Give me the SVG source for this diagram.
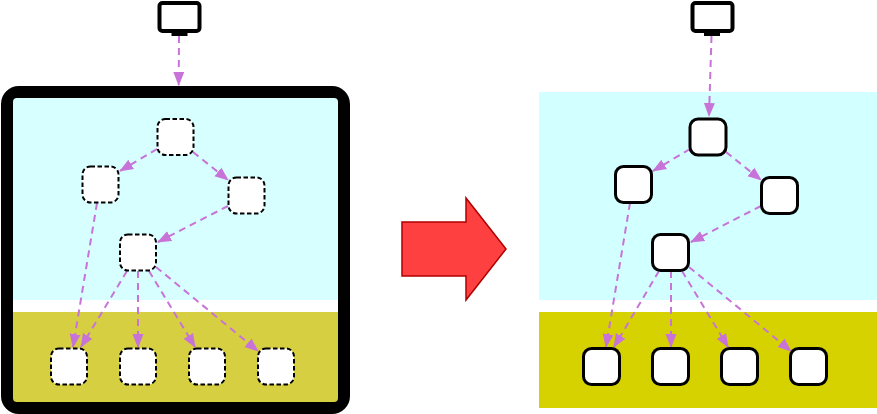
<svg xmlns="http://www.w3.org/2000/svg" width="877" height="414" viewBox="0 0 877 414">
<style>
.e{fill:none;stroke:#c873d8;stroke-width:2;stroke-dasharray:7 5;marker-end:url(#ah)}
.nd{fill:#fff;stroke:#000;stroke-width:2;stroke-dasharray:4.500 2.500}
.ns{fill:#fff;stroke:#000;stroke-width:3}
.mon{fill:#fff;stroke:#000;stroke-width:4}
</style>
<defs>
<marker id="ah" markerUnits="userSpaceOnUse" markerWidth="15" markerHeight="13" refX="13" refY="6" orient="auto" viewBox="0 0 15 13"><path d="M0 0.500L14 6L0 11.500Z" fill="#c873d8"/></marker>
</defs>
<rect id="left-frame" x="7" y="92" width="337" height="316" rx="12" fill="#fff" stroke="#000" stroke-width="12"/>
<path id="left-cyan" d="M13 300V102a4 4 0 0 1 4-4H334a4 4 0 0 1 4 4V300Z" fill="#d7ffff"/>
<path id="left-olive" d="M13 312H338V398a4 4 0 0 1-4 4H17a4 4 0 0 1-4-4Z" fill="#d6cf41"/>
<rect id="right-cyan" x="539" y="92" width="338" height="208" fill="#d2ffff"/>
<rect id="right-olive" x="539" y="312" width="338" height="96" fill="#d6d200"/>
<path id="big-arrow" d="M402 222H466V198L506 249L466 300V276H402Z" fill="#ff4040" stroke="#b00000" stroke-width="1.500"/>
<g id="connectors">
<line class="e" x1="179" y1="36" x2="178.700" y2="85"/>
<line class="e" x1="157" y1="149" x2="120" y2="171"/>
<line class="e" x1="193" y1="152" x2="228" y2="180"/>
<line class="e" x1="228" y1="206" x2="158" y2="242"/>
<line class="e" x1="97" y1="203" x2="73" y2="347"/>
<line class="e" x1="127" y1="271" x2="81" y2="347"/>
<line class="e" x1="138" y1="271" x2="138" y2="347"/>
<line class="e" x1="149" y1="271" x2="195" y2="347"/>
<line class="e" x1="156" y1="267" x2="258" y2="351"/>
<line class="e" x1="711.500" y1="36" x2="709" y2="116"/>
<line class="e" x1="690" y1="149" x2="653" y2="171"/>
<line class="e" x1="726" y1="152" x2="761" y2="180"/>
<line class="e" x1="761" y1="206" x2="691" y2="242"/>
<line class="e" x1="630" y1="203" x2="606" y2="347"/>
<line class="e" x1="659" y1="271" x2="614" y2="347"/>
<line class="e" x1="671" y1="271" x2="671" y2="347"/>
<line class="e" x1="682" y1="271" x2="728" y2="347"/>
<line class="e" x1="689" y1="267" x2="791" y2="351"/>
</g>
<g id="monitor-left"><rect class="mon" x="159.500" y="3" width="40" height="28" rx="3"/><rect x="171.500" y="32" width="16" height="4"/></g>
<g id="monitor-right"><rect class="mon" x="692.500" y="3" width="40" height="28" rx="3"/><rect x="704" y="32" width="16" height="4"/></g>
<g id="l-a"><rect class="nd" x="157.500" y="119" width="36" height="36" rx="8"/></g>
<g id="l-b"><rect class="nd" x="82.500" y="166.500" width="36" height="36" rx="8"/></g>
<g id="l-c"><rect class="nd" x="228.500" y="177.500" width="36" height="36" rx="8"/></g>
<g id="l-d"><rect class="nd" x="120" y="234.500" width="36" height="36" rx="8"/></g>
<g id="l-e"><rect class="nd" x="51" y="348.500" width="36" height="36" rx="8"/></g>
<g id="l-f"><rect class="nd" x="120" y="348.500" width="36" height="36" rx="8"/></g>
<g id="l-g"><rect class="nd" x="189" y="348.500" width="36" height="36" rx="8"/></g>
<g id="l-h"><rect class="nd" x="258" y="348.500" width="36" height="36" rx="8"/></g>
<g id="r-a"><rect class="ns" x="690" y="119" width="36" height="36" rx="8"/></g>
<g id="r-b"><rect class="ns" x="615.500" y="166.500" width="36" height="36" rx="8"/></g>
<g id="r-c"><rect class="ns" x="761.500" y="177.500" width="36" height="36" rx="8"/></g>
<g id="r-d"><rect class="ns" x="652.500" y="234.500" width="36" height="36" rx="8"/></g>
<g id="r-e"><rect class="ns" x="583.500" y="348.500" width="36" height="36" rx="8"/></g>
<g id="r-f"><rect class="ns" x="652.500" y="348.500" width="36" height="36" rx="8"/></g>
<g id="r-g"><rect class="ns" x="721.500" y="348.500" width="36" height="36" rx="8"/></g>
<g id="r-h"><rect class="ns" x="790.500" y="348.500" width="36" height="36" rx="8"/></g>
</svg>
